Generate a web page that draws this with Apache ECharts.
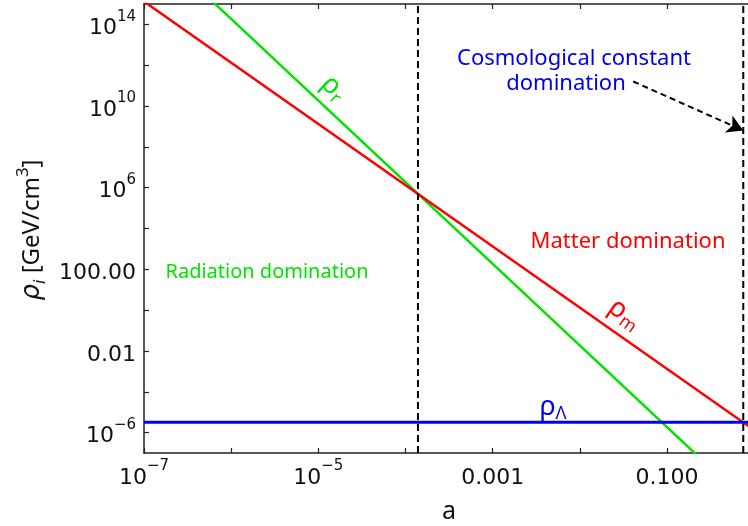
<!DOCTYPE html>
<html>
<head>
<meta charset="utf-8">
<script src="https://cdn.jsdelivr.net/npm/echarts@6/dist/echarts.min.js"></script>
<style>
  html, body { margin: 0; padding: 0; background: #fff; overflow: hidden; }
  #chart { width: 748px; height: 526px; }
</style>
</head>
<body>
<div id="chart"></div>
<script>
// Scale factor range and energy densities of the three components (GeV/cm^3)
const scaleFactor = [1e-7, 1];
const rhoMatter = [1.33e15, 1.33e-6];
const rhoRadiation = [1.86e18, 1.86e-10];
const rhoLambda = [3.2e-6, 3.2e-6];

// Epoch boundaries: matter-radiation equality and matter-Lambda equality
const aEquality = 1.39e-4;
const aLambda = 0.75;

// Axis extents
const xRange = [1e-7, 0.85];
const yRange = [1e-7, 1e15];

// Tick positions and their labels
const xMajorTicks = [1e-7, 1e-5, 1e-3, 1e-1];
const xTickLabels = ['10^−7', '10^−5', '0.001', '0.100'];
const xMinorTicks = [1e-6, 1e-4, 1e-2];
const yMajorTicks = [1e-6, 1e-2, 1e2, 1e6, 1e10, 1e14];
const yTickLabels = ['10^−6', '0.01', '100.00', '10^6', '10^10', '10^14'];
const yMinorTicks = [1e-4, 1, 1e4, 1e8, 1e12];

// Arrow pointing at the Lambda-domination boundary
const arrowStart = [0.041, 1.6e11];
const arrowEnd = [0.75, 6.3e8];

const RED = '#ff0000';
const GREEN = '#00e400';
const BLUE = '#0000f0';
const TICK_FONT = 'DejaVu Sans';
const NOTE_FONT = '"Comic Sans MS", "Noto Sans", sans-serif';

function exp10(v) { return Math.round(Math.log10(v)); }

function labelLookup(ticks, labels) {
  const m = {};
  ticks.forEach((t, i) => { m[exp10(t)] = labels[i]; });
  return m;
}
const xLabelMap = labelLookup(xMajorTicks, xTickLabels);
const yLabelMap = labelLookup(yMajorTicks, yTickLabels);

function toRich(s) {
  if (!s) return '';
  const k = s.indexOf('^');
  if (k < 0) return '{b|' + s + '}';
  return '{b|' + s.slice(0, k) + '}{s|' + s.slice(k + 1) + '}';
}

const tickRich = {
  b: { fontFamily: TICK_FONT, fontSize: 22, color: '#111', lineHeight: 30, verticalAlign: 'bottom' },
  s: { fontFamily: TICK_FONT, fontSize: 15, color: '#111', lineHeight: 30, verticalAlign: 'top' }
};

const axisLineStyle = { color: '#222', width: 1.5 };

// One axis per frame side; major and minor decades share the tick marks,
// only the major decades carry labels.
function frameAxis(dim, position, majors, minors, labelMap, showLabel) {
  return {
    type: 'log', gridIndex: 0, position: position,
    min: dim === 'x' ? xRange[0] : yRange[0],
    max: dim === 'x' ? xRange[1] : yRange[1],
    axisLine: { show: true, onZero: false, lineStyle: axisLineStyle },
    axisTick: {
      show: true, inside: true, length: 5,
      customValues: majors.concat(minors),
      lineStyle: { color: '#222', width: 1.2 }
    },
    axisLabel: {
      show: showLabel, customValues: majors, margin: dim === 'x' ? 6 : 8,
      formatter: v => toRich(labelMap[exp10(v)]),
      rich: tickRich
    },
    splitLine: { show: false },
    minorTick: { show: false }
  };
}

function pairs(xs, ys) { return xs.map((x, i) => [x, ys[i]]); }

const chart = echarts.init(document.getElementById('chart'), null, { renderer: 'canvas' });

const option = {
  animation: false,
  backgroundColor: '#ffffff',
  grid: { left: 144, top: 4, right: 0, bottom: 73, containLabel: false },
  xAxis: [
    frameAxis('x', 'bottom', xMajorTicks, xMinorTicks, xLabelMap, true),
    frameAxis('x', 'top', xMajorTicks, xMinorTicks, xLabelMap, false)
  ],
  yAxis: [
    frameAxis('y', 'left', yMajorTicks, yMinorTicks, yLabelMap, true)
  ],
  series: [
    {
      name: 'rho_r', type: 'line', data: pairs(scaleFactor, rhoRadiation),
      showSymbol: false, clip: true, lineStyle: { color: GREEN, width: 2.5 }, z: 3
    },
    {
      name: 'rho_m', type: 'line', data: pairs(scaleFactor, rhoMatter),
      showSymbol: false, clip: true, lineStyle: { color: RED, width: 2.5 }, z: 3
    },
    {
      name: 'rho_L', type: 'line', data: pairs(scaleFactor, rhoLambda),
      showSymbol: false, clip: true, lineStyle: { color: BLUE, width: 3 }, z: 4
    },
    {
      name: 'equality', type: 'line', data: [[aEquality, yRange[0]], [aEquality, yRange[1]]],
      showSymbol: false, clip: true, lineStyle: { color: '#000', width: 2, type: [7, 4] }, z: 5
    },
    {
      name: 'lambdaStart', type: 'line', data: [[aLambda, yRange[0]], [aLambda, yRange[1]]],
      showSymbol: false, clip: true, lineStyle: { color: '#000', width: 2, type: [7, 4] }, z: 5,
      markLine: {
        silent: true, animation: false,
        symbol: ['none', 'arrow'], symbolSize: [14, 16],
        label: { show: false },
        lineStyle: { color: '#000', width: 2, type: [6, 4] },
        data: [[{ coord: arrowStart }, { coord: arrowEnd }]]
      }
    }
  ],
  graphic: [
    // axis titles
    {
      type: 'text', x: 449, y: 512,
      style: { text: 'a', fill: '#111', fontSize: 25, fontFamily: NOTE_FONT, align: 'center', verticalAlign: 'middle' }
    },
    {
      type: 'text', x: 32, y: 230, rotation: Math.PI / 2,
      style: {
        text: '{r|ρ}{sub|i}{t| [GeV/cm}{sup|3}{t|]}',
        align: 'center', verticalAlign: 'middle',
        rich: {
          r: { fontSize: 26, fontFamily: 'DejaVu Sans', fontStyle: 'italic', fill: '#111', lineHeight: 34, verticalAlign: 'middle' },
          sub: { fontSize: 16, fontFamily: 'DejaVu Sans', fontStyle: 'italic', fill: '#111', lineHeight: 34, verticalAlign: 'bottom' },
          t: { fontSize: 24, fontFamily: NOTE_FONT, fill: '#111', lineHeight: 34, verticalAlign: 'middle' },
          sup: { fontSize: 17, fontFamily: NOTE_FONT, fill: '#111', lineHeight: 34, verticalAlign: 'top' }
        }
      }
    },
    // region annotations
    {
      type: 'text', x: 574, y: 59,
      style: { text: 'Cosmological constant', fill: BLUE, fontSize: 22, fontFamily: NOTE_FONT, align: 'center', verticalAlign: 'middle' }
    },
    {
      type: 'text', x: 566, y: 84,
      style: { text: 'domination', fill: BLUE, fontSize: 22, fontFamily: NOTE_FONT, align: 'center', verticalAlign: 'middle' }
    },
    {
      type: 'text', x: 628, y: 242,
      style: { text: 'Matter domination', fill: RED, fontSize: 22, fontFamily: NOTE_FONT, align: 'center', verticalAlign: 'middle' }
    },
    {
      type: 'text', x: 267, y: 272,
      style: { text: 'Radiation domination', fill: GREEN, fontSize: 20, fontFamily: NOTE_FONT, align: 'center', verticalAlign: 'middle' }
    },
    // curve labels
    {
      type: 'text', x: 334, y: 88, rotation: -43 * Math.PI / 180,
      style: {
        text: '{r|ρ}{s|r}', align: 'center', verticalAlign: 'middle',
        rich: {
          r: { fontSize: 27, fontFamily: NOTE_FONT, fill: GREEN, lineHeight: 32, verticalAlign: 'middle' },
          s: { fontSize: 18, fontFamily: NOTE_FONT, fill: GREEN, lineHeight: 32, verticalAlign: 'bottom' }
        }
      }
    },
    {
      type: 'text', x: 625, y: 314, rotation: -35 * Math.PI / 180,
      style: {
        text: '{r|ρ}{s|m}', align: 'center', verticalAlign: 'middle',
        rich: {
          r: { fontSize: 27, fontFamily: NOTE_FONT, fill: RED, lineHeight: 32, verticalAlign: 'middle' },
          s: { fontSize: 18, fontFamily: NOTE_FONT, fill: RED, lineHeight: 32, verticalAlign: 'bottom' }
        }
      }
    },
    {
      type: 'text', x: 553, y: 407,
      style: {
        text: '{r|ρ}{s|Λ}', align: 'center', verticalAlign: 'middle',
        rich: {
          r: { fontSize: 27, fontFamily: NOTE_FONT, fill: BLUE, lineHeight: 32, verticalAlign: 'middle' },
          s: { fontSize: 18, fontFamily: NOTE_FONT, fill: BLUE, lineHeight: 32, verticalAlign: 'bottom' }
        }
      }
    }
  ]
};

chart.setOption(option);
</script>
</body>
</html>
